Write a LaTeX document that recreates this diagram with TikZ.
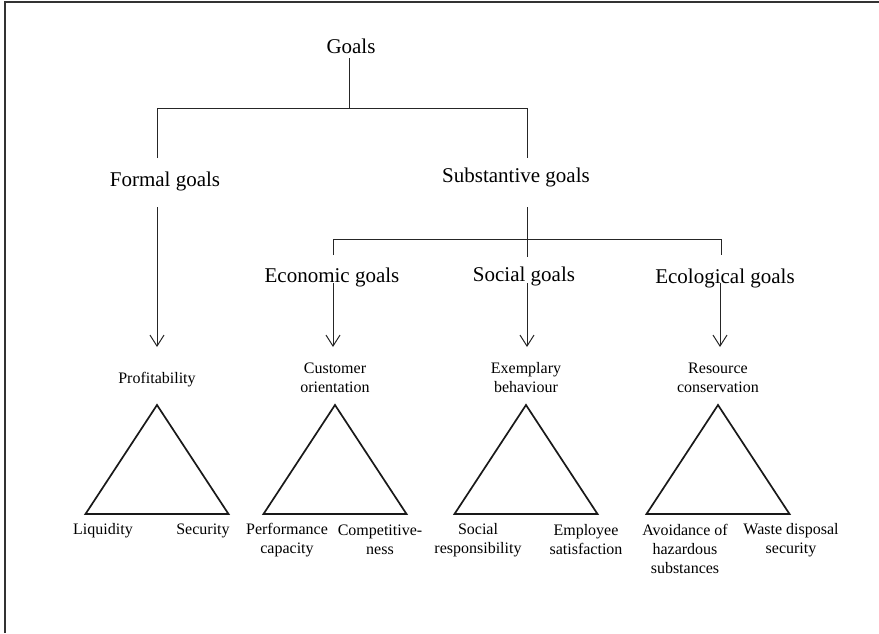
\documentclass[tikz,border=0pt]{standalone}
\usepackage{fontspec}
\setmainfont{Liberation Serif}
\usetikzlibrary{arrows.meta}
\begin{document}
\begin{tikzpicture}[x=1pt,y=-1pt,
  big/.style={font=\fontsize{21}{25}\selectfont, inner sep=2pt},
  small/.style={font=\fontsize{16}{19}\selectfont, inner sep=1pt, align=center},
  link/.style={line width=1pt, draw=black!85},
  arr/.style={link, -{Straight Barb[length=11pt,width=14pt,line width=1pt]}},
  tri/.style={line width=1.7pt, line join=miter, draw=black!90},
  frame/.style={line width=2pt, draw=black!80}]
\useasboundingbox (0,0) rectangle (879,633);

% outer frame (top and left edges)
\draw[frame] (5,633) -- (5,2) -- (879,2);

% headings
\node[big] (goals)  at (351,46)  {Goals};
\node[big] (formal) at (165,181) {Formal goals};
\node[big] (subst)  at (516,177) {Substantive goals};
\node[big] (econ)   at (332,277) {Economic goals};
\node[big] (social) at (524,276) {Social goals};
\node[big] (eco)    at (725,278) {Ecological goals};

% first branching
\coordinate (g0) at (349,58);
\coordinate (j1) at (349,108);
\coordinate (j1l) at (157,108);
\coordinate (j1r) at (527,108);
\coordinate (j1le) at (157,158);
\coordinate (j1re) at (527,158);
\draw[link] (g0) -- (j1);
\draw[link] (j1le) -- (j1l) -- (j1r) -- (j1re);

% second branching
\coordinate (s0) at (527,207);
\coordinate (s1) at (527,257);
\coordinate (j2l) at (333,239);
\coordinate (j2r) at (721,239);
\coordinate (j2le) at (333,255);
\coordinate (j2re) at (721,255);
\draw[link] (s0) -- (s1);
\draw[link] (j2le) -- (j2l) -- (j2r) -- (j2re);

% arrows down to the triangles
\coordinate (fa0) at (157,207);  \coordinate (fa1) at (157,347);
\coordinate (ea0) at (333,283);  \coordinate (ea1) at (333,347);
\coordinate (sa0) at (527,283);  \coordinate (sa1) at (527,347);
\coordinate (oa0) at (720,283);  \coordinate (oa1) at (720,347);
\draw[arr] (fa0) -- (fa1);
\draw[arr] (ea0) -- (ea1);
\draw[arr] (sa0) -- (sa1);
\draw[arr] (oa0) -- (oa1);

% top labels of the triangles
\node[small] (prof) at (157,380) {Profitability};
\node[small] (cust) at (335,378) {Customer\\orientation};
\node[small] (exem) at (526,378) {Exemplary\\behaviour};
\node[small] (res)  at (718,378) {Resource\\conservation};

% triangles
\foreach \cx in {157,335,526,718}
  \draw[tri] (\cx,405) -- (\cx+71.5,514) -- (\cx-71.5,514) -- cycle;

% corner labels
\node[small] (liq)  at (103,531) {Liquidity};
\node[small] (sec)  at (203,531) {Security};
\node[small] (perf) at (287,540) {Performance\\capacity};
\node[small] (comp) at (380,540) {Competitive-\\ness};
\node[small] (sres) at (478,540) {Social\\responsibility};
\node[small] (emp)  at (586,540) {Employee\\satisfaction};
\node[small] (avo)  at (685,549) {Avoidance of\\hazardous\\substances};
\node[small] (waste) at (791,540) {Waste disposal\\security};
\end{tikzpicture}
\end{document}
